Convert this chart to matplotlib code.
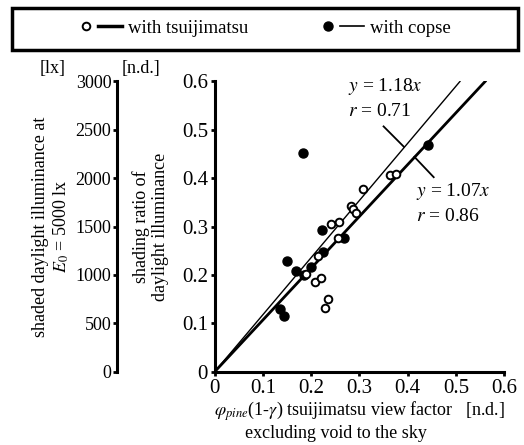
import matplotlib
matplotlib.use('Agg')
import numpy as np
import matplotlib.pyplot as plt
from matplotlib.lines import Line2D
from matplotlib.patches import Rectangle
from matplotlib.legend_handler import HandlerTuple

plt.rcParams['font.family'] = ['Liberation Serif', 'DejaVu Serif']
plt.rcParams['mathtext.fontset'] = 'stix'
plt.rcParams['font.size'] = 13

# tsuijimatsu (open circles)
open_x = [0.283, 0.287, 0.293, 0.241, 0.257, 0.255, 0.214, 0.189, 0.208, 0.220, 0.234, 0.229, 0.307, 0.364, 0.376]
open_y = [0.343, 0.337, 0.328, 0.306, 0.310, 0.276, 0.238, 0.202, 0.186, 0.193, 0.150, 0.132, 0.377, 0.407, 0.408]
# copse (filled circles)
filled_x = [0.182, 0.442, 0.222, 0.268, 0.225, 0.150, 0.199, 0.169, 0.184, 0.135, 0.144]
filled_y = [0.452, 0.468, 0.293, 0.277, 0.248, 0.228, 0.217, 0.207, 0.200, 0.129, 0.115]

slope_thin, r_thin = 1.18, 0.71
slope_thick, r_thick = 1.07, 0.86

x_ticks = [0, 0.1, 0.2, 0.3, 0.4, 0.5, 0.6]
y_ticks = [0, 0.1, 0.2, 0.3, 0.4, 0.5, 0.6]
lx_ticks = [0, 500, 1000, 1500, 2000, 2500, 3000]

fig = plt.figure(figsize=(5.24, 4.45), dpi=100)
ax = fig.add_axes([0.410, 0.165, 0.552, 0.652])

ymax = 0.6
ax.plot([0, ymax / slope_thin], [0, ymax], color='black', lw=1.0, zorder=2)
ax.plot([0, ymax / slope_thick], [0, ymax], color='black', lw=2.0, zorder=2)
ax.plot(filled_x, filled_y, 'o', color='black', ms=6.5, zorder=3)
ax.plot(open_x, open_y, 'o', mfc='white', mec='black', mew=1.4, ms=5.5, zorder=4)

# annotation leaders
ax.plot([0.350, 0.392], [0.507, 0.465], color='black', lw=1.3)
ax.plot([0.414, 0.454], [0.444, 0.402], color='black', lw=1.3)
ax.text(0.277, 0.590, r'$y$ = %.2f$x$' % slope_thin, fontsize=14, va='center')
ax.text(0.277, 0.538, r'$r$ = %.2f' % r_thin, fontsize=14, va='center')
ax.text(0.417, 0.372, r'$y$ = %.2f$x$' % slope_thick, fontsize=14, va='center')
ax.text(0.417, 0.321, r'$r$ = %.2f' % r_thick, fontsize=14, va='center')

ax.set_xlim(0, 0.6)
ax.set_ylim(0, 0.6)
ax.set_xticks(x_ticks)
ax.set_yticks(y_ticks)
ax.set_xticklabels(['0', '0.1', '0.2', '0.3', '0.4', '0.5', '0.6'], fontsize=15)
ax.set_yticklabels(['0', '0.1', '0.2', '0.3', '0.4', '0.5', '0.6'], fontsize=15)
for s in ['top', 'right']:
    ax.spines[s].set_visible(False)
for s in ['left', 'bottom']:
    ax.spines[s].set_linewidth(2.2)
ax.tick_params(direction='out', length=3, width=2, pad=2)
ax.set_xlabel(r'$\varphi_{pine}$(1-$\gamma$) tsuijimatsu view factor   [n.d.]', labelpad=1)
ax.text(0.418, -0.215, 'excluding void to the sky', transform=ax.transAxes, ha='center', va='center')
ax.set_ylabel('shading ratio of\ndaylight illuminance', labelpad=9)
ax.text(-0.255, 1.045, '[n.d.]', transform=ax.transAxes, ha='center', va='center')

# illuminance axis
ax2 = ax.twinx()
ax2.set_ylim(0, 3000)
ax2.set_yticks(lx_ticks)
ax2.set_yticklabels([str(v) for v in lx_ticks], fontsize=15)
ax2.spines['right'].set_visible(False)
ax2.spines['top'].set_visible(False)
ax2.spines['bottom'].set_visible(False)
ax2.spines['left'].set_visible(True)
ax2.spines['left'].set_linewidth(2.2)
ax2.spines['left'].set_position(('outward', 70.5))
ax2.yaxis.tick_left()
ax2.yaxis.set_label_position('left')
ax2.tick_params(direction='out', length=3, width=2, pad=1)
ax2.set_ylabel('shaded daylight illuminance at\n$E_0$ = 5000 lx', labelpad=3)
ax2.text(-0.56, 1.045, '[lx]', transform=ax.transAxes, ha='center', va='center')

# legend box at top
h_open = (Line2D([], [], marker='o', ls='', mfc='white', mec='black', mew=1.4, ms=5.5),
          Line2D([], [], color='black', lw=2.5))
h_fill = (Line2D([], [], marker='o', ls='', color='black', ms=6.5),
          Line2D([], [], color='black', lw=1.2))
fig.legend([h_open, h_fill], ['with tsuijimatsu', 'with copse'], ncol=2, loc='center',
           bbox_to_anchor=(0.500, 0.936), frameon=False, handlelength=2.6, handletextpad=0.3,
           columnspacing=3.6, fontsize=13.5,
           handler_map={tuple: HandlerTuple(ndivide=None, pad=0.0)})
fig.add_artist(Rectangle((12 / 524, 1 - 50 / 445), 506 / 524, 42 / 445, transform=fig.transFigure,
                         fill=False, lw=2.5, edgecolor='black'))

plt.savefig('out.png', dpi=100)
